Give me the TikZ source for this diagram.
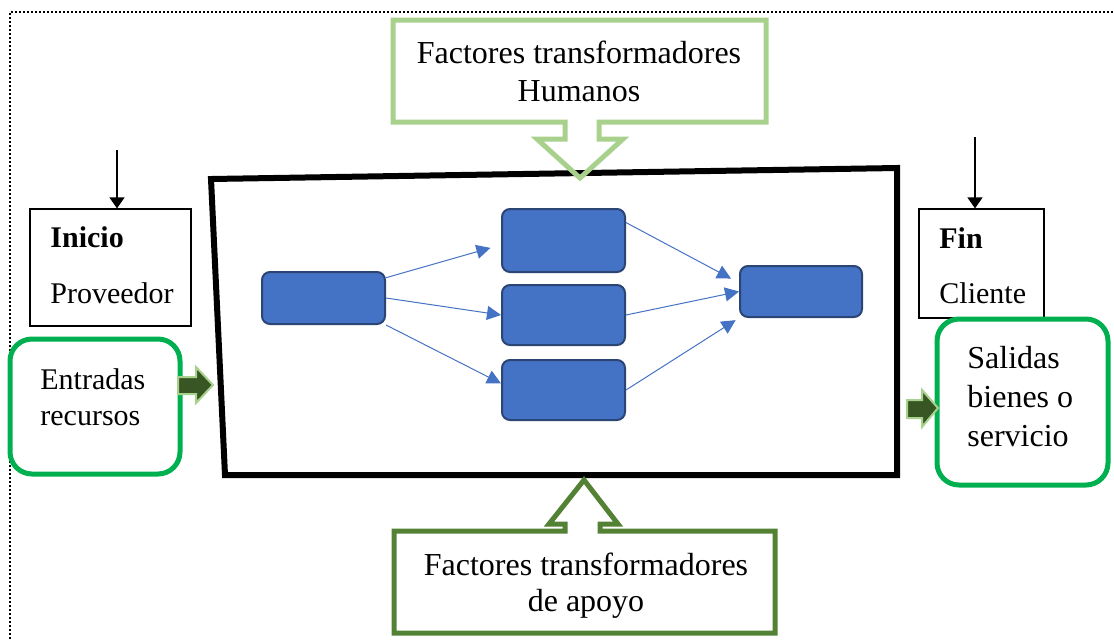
\documentclass[tikz,border=0pt]{standalone}
\usepackage{fontspec}
\setmainfont{Liberation Serif}
\usetikzlibrary{arrows.meta}

\definecolor{verdeclaro}{HTML}{A9D18E}
\definecolor{verdeoscuro}{HTML}{548235}
\definecolor{verdevivo}{HTML}{00B050}
\definecolor{verdeflecha}{HTML}{375623}
\definecolor{azul}{HTML}{4472C4}
\definecolor{azulborde}{HTML}{2B4674}

\begin{document}
\begin{tikzpicture}[x=0.5pt, y=-0.5pt,
    every node/.style={inner sep=0pt},
    proceso/.style={draw=azulborde, fill=azul, line width=1pt, rounded corners=4pt, minimum width=61.5pt},
    flujo/.style={azul, line width=0.5pt, -{Triangle[length=7pt,width=7pt]}},
    caja/.style={draw, line width=0.6pt},
    redondo/.style={draw=verdevivo, line width=2.5pt, rounded corners=11pt},
    bloque/.style={fill=verdeflecha, draw=verdeclaro, line width=1pt},
    flecha/.style={line width=0.6pt, -{Triangle[length=5.5pt,width=7.5pt]}},
    grande/.style={font=\fontsize{16}{19}\selectfont, align=center},
    normal/.style={font=\fontsize{15}{18}\selectfont}
  ]
    \useasboundingbox (0,0) rectangle (1114,639);

    % marco punteado
    \draw[line width=0.8pt, dash pattern=on 0.8pt off 1.2pt] (10,639) -- (10,12) -- (1114,12);

    % proceso (cuadrilatero negro)
    \draw[line width=3pt, line join=miter] (211,179) -- (897,168) -- (897,475) -- (225,475) -- cycle;

    % factores transformadores humanos
    \draw[verdeclaro, line width=2.5pt] (393,20) -- (766,20) -- (766,122) -- (599,122) -- (599,139)
        -- (623,139) -- (580,178) -- (537,139) -- (565,139) -- (565,122) -- (393,122) -- cycle;
    \node[grande] (humanos) at (579,71) {Factores transformadores\\Humanos};

    % factores transformadores de apoyo
    \draw[verdeoscuro, line width=2.5pt] (394,531) -- (565,531) -- (565,524) -- (549,524) -- (584,480)
        -- (618,524) -- (600,524) -- (600,531) -- (775,531) -- (775,633) -- (394,633) -- cycle;
    \node[grande, font=\fontsize{16}{18}\selectfont] (apoyo) at (586,586) {Factores transformadores\\de apoyo};

    % inicio y fin
    \node[caja, minimum width=80.5pt, minimum height=58.5pt] (inicio) at (110.5,267.5) {};
    \node[normal, anchor=base west] (inicioT) at (50,247) {\textbf{Inicio}};
    \node[normal, anchor=base west] (proveedor) at (50,303) {Proveedor};
    \coordinate (iniArriba) at (117,150);
    \draw[flecha] (iniArriba) -- (iniArriba |- inicio.north);

    \node[caja, minimum width=62.5pt, minimum height=54.5pt] (fin) at (981.5,263.5) {};
    \node[normal, anchor=base west] (finT) at (939,248) {\textbf{Fin}};
    \node[normal, anchor=base west] (cliente) at (939,303) {Cliente};
    \coordinate (finArriba) at (975,137);
    \draw[flecha] (finArriba) -- (finArriba |- fin.north);

    % entradas y salidas
    \node[redondo, minimum width=85pt, minimum height=67.5pt] (entradas) at (95,406.5) {};
    \node[normal, align=left, anchor=west] (entradasT) at (40,397) {Entradas\\recursos};
    \node[redondo, minimum width=85.5pt, minimum height=83pt] (salidas) at (1022.5,402) {};
    \node[grande, font=\fontsize{16}{19.5}\selectfont, align=left, anchor=west] (salidasT) at (967,397) {Salidas\\bienes o\\servicio};

    \draw[bloque] (178,377) -- (196,377) -- (196,367) -- (213,385) -- (196,403) -- (196,394) -- (178,394) -- cycle;
    \draw[bloque] (907,400) -- (922,400) -- (922,390) -- (938,408) -- (922,427) -- (922,418) -- (907,418) -- cycle;

    % cajas azules
    \node[proceso, minimum height=26pt] (b0) at (323.5,298) {};
    \node[proceso, minimum height=31.5pt] (b1) at (563.5,240.5) {};
    \node[proceso, minimum height=30pt] (b2) at (563.5,315) {};
    \node[proceso, minimum height=30pt] (b3) at (563.5,390) {};
    \node[proceso, minimum width=61pt, minimum height=25.5pt] (b4) at (801,291.5) {};

    \draw[flujo, shorten >=5.5pt] (b0.18) -- (b1.184);
    \draw[flujo] (b0.east) -- (b2.west);
    \draw[flujo] (b0.south east) -- (b3.174);
    \draw[flujo, shorten >=4.5pt] (b1.16) -- (b4.172);
    \draw[flujo] (b2.east) -- (b4.west);
    \draw[flujo, shorten >=2pt] (b3.east) -- (b4.south west);
\end{tikzpicture}
\end{document}
